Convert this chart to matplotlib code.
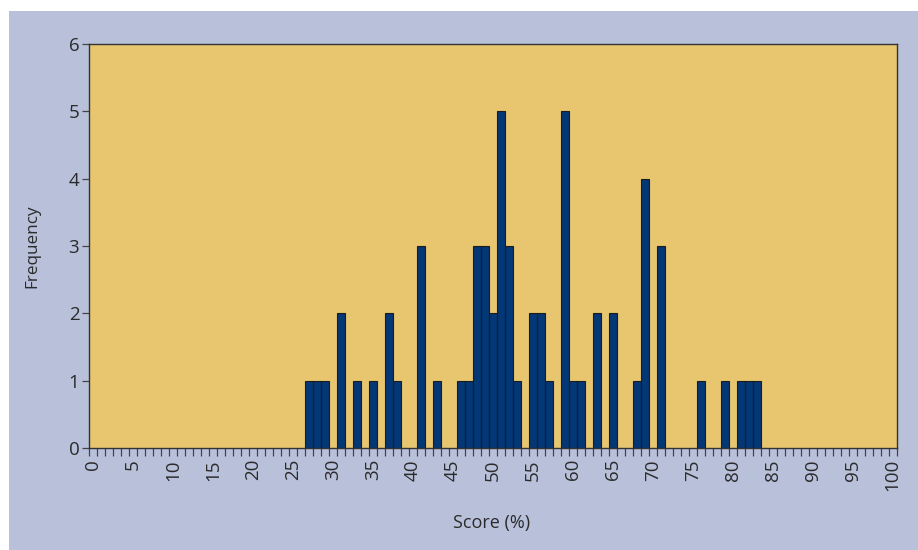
#!/usr/bin/env python3
"""Histogram of exam scores, redrawn as out.png."""

import matplotlib
matplotlib.use("Agg")
import matplotlib.pyplot as plt
from matplotlib.patches import Rectangle
from matplotlib.transforms import ScaledTranslation

SCORES = [27, 28, 29, 31, 33, 35, 37, 38, 41, 43, 46, 47, 48, 49, 50, 51, 52,
          53, 55, 56, 57, 59, 60, 61, 63, 65, 68, 69, 71, 76, 79, 81, 82, 83]
FREQUENCY = [1, 1, 1, 2, 1, 1, 2, 1, 3, 1, 1, 1, 3, 3, 2, 5, 3,
             1, 2, 2, 1, 5, 1, 1, 2, 2, 1, 4, 3, 1, 1, 1, 1, 1]
X_TICK_LABELS = [str(v) for v in range(0, 101, 5)]
Y_TICKS = [0, 1, 2, 3, 4, 5, 6]

PANEL_BLUE = "#b8c0da"
PLOT_YELLOW = "#e8c670"
BAR_BLUE = "#033775"
TEXT = "#2b2b2b"

plt.rcParams["font.family"] = ["Open Sans", "DejaVu Sans"]

fig = plt.figure(figsize=(9.18, 5.5), dpi=100, facecolor="white")
# blue panel behind the chart, leaving a thin white margin top/left
fig.patches.append(Rectangle((9 / 918, 0), 1 - 9 / 918, 1 - 11 / 550,
                             transform=fig.transFigure, facecolor=PANEL_BLUE,
                             edgecolor="none", zorder=-10))

ax = fig.add_axes([89 / 918, 1 - 448 / 550, (896.7 - 89) / 918, (448 - 44) / 550])
ax.set_zorder(1)
ax.set_facecolor(PLOT_YELLOW)

ax.bar(SCORES, FREQUENCY, width=1.0, align="edge", color=BAR_BLUE,
       edgecolor="#1c1c1c", linewidth=0.8, zorder=2)

ax.set_xlim(0, 101)
ax.set_ylim(0, 6)
ax.set_xticks(range(0, 101, 5))
ax.set_xticklabels(X_TICK_LABELS, rotation=90, fontsize=13.5, color=TEXT)
ax.set_xticks(range(0, 102), minor=True)
ax.set_yticks(Y_TICKS)
ax.set_yticklabels([str(v) for v in Y_TICKS], fontsize=13.5, color=TEXT)

ax.tick_params(axis="x", which="both", direction="out", length=6, width=0.9,
               color="#444444", pad=2)
ax.tick_params(axis="y", direction="out", length=5, width=0.9,
               color="#444444", pad=2)

# rotated labels sit a little right of their ticks in the original
shift = ScaledTranslation(4 / 100, 0, fig.dpi_scale_trans)
for lab in ax.get_xticklabels():
    lab.set_transform(lab.get_transform() + shift)

for spine in ax.spines.values():
    spine.set_color("#333333")
    spine.set_linewidth(1.0)

fig.text(492 / 918, 1 - 523 / 550, "Score (%)", ha="center", va="center",
         fontsize=13, color=TEXT)
fig.text(32 / 918, 1 - 246 / 550, "Frequency", ha="center", va="center",
         rotation=90, fontsize=12.3, color=TEXT)

fig.savefig("out.png", dpi=100, facecolor="white")
